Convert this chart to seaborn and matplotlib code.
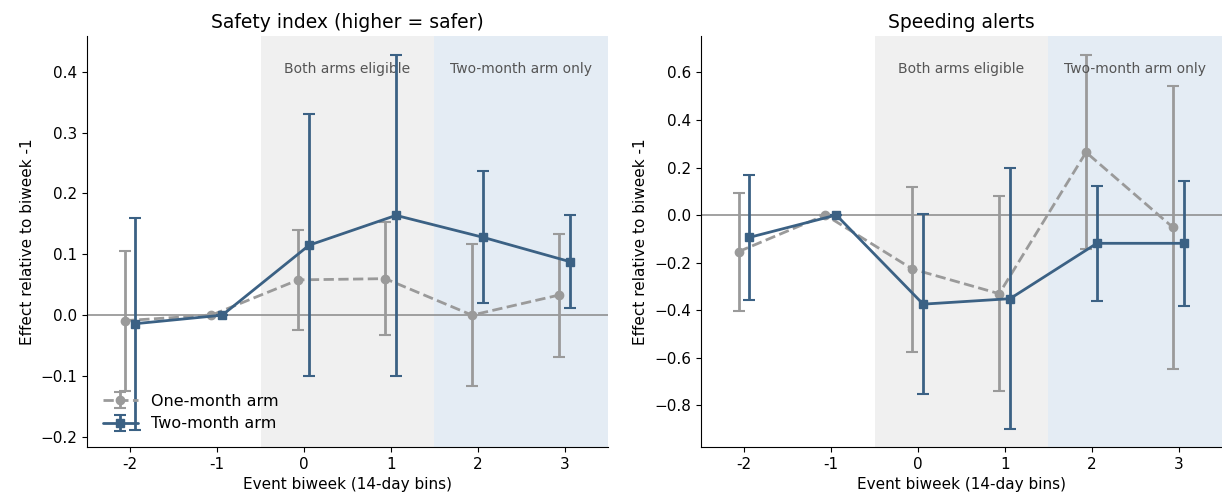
import numpy as np
import matplotlib
matplotlib.use("Agg")
import matplotlib.pyplot as plt
import seaborn as sns

sns.set_style("ticks")
plt.rcParams['font.family'] = ['DejaVu Sans']
for key in ["text.color", "axes.labelcolor", "xtick.color", "ytick.color", "axes.edgecolor"]:
    plt.rcParams[key] = "black"

# event biweeks
biweeks = [-2, -1, 0, 1, 2, 3]
biweek_labels = ["-2", "-1", "0", "1", "2", "3"]

# Safety index (higher = safer)
safety_one = [-0.009, 0.0, 0.058, 0.060, 0.0, 0.033]
safety_one_lo = [-0.125, 0.0, -0.024, -0.033, -0.117, -0.069]
safety_one_hi = [0.106, 0.0, 0.140, 0.153, 0.117, 0.134]
safety_two = [-0.014, 0.0, 0.115, 0.164, 0.128, 0.088]
safety_two_lo = [-0.188, 0.0, -0.100, -0.100, 0.020, 0.011]
safety_two_hi = [0.160, 0.0, 0.331, 0.428, 0.237, 0.165]

# Speeding alerts
speed_one = [-0.154, 0.0, -0.227, -0.331, 0.264, -0.052]
speed_one_lo = [-0.404, 0.0, -0.575, -0.741, -0.143, -0.650]
speed_one_hi = [0.093, 0.0, 0.119, 0.079, 0.674, 0.545]
speed_two = [-0.094, 0.0, -0.375, -0.352, -0.119, -0.119]
speed_two_lo = [-0.357, 0.0, -0.755, -0.901, -0.362, -0.384]
speed_two_hi = [0.168, 0.0, 0.006, 0.199, 0.123, 0.144]

grey = "#9a9a9a"
blue = "#3b6184"

fig, axes = plt.subplots(1, 2, figsize=(12.22, 4.98), dpi=100)
fig.subplots_adjust(left=0.071, right=1.0, bottom=0.102, top=0.928, wspace=0.178)


def draw_panel(ax, title, one, one_lo, one_hi, two, two_lo, two_hi, ylim, legend=False):
    x = np.array(biweeks, dtype=float)
    ax.axvspan(-0.5, 1.5, color="#f0f0f0", zorder=0, lw=0)
    ax.axvspan(1.5, 3.5, color="#e4ecf4", zorder=0, lw=0)
    ax.axhline(0, color="#888888", lw=1.1, zorder=1)

    one = np.array(one); two = np.array(two)
    err_one = [one - np.array(one_lo), np.array(one_hi) - one]
    err_two = [two - np.array(two_lo), np.array(two_hi) - two]
    ax.errorbar(x - 0.065, one, yerr=err_one, color=grey, ls="--", lw=2,
                marker="o", ms=6, capsize=4, elinewidth=2, capthick=1.5,
                label="One-month arm", zorder=3)
    ax.errorbar(x + 0.06, two, yerr=err_two, color=blue, ls="-", lw=2,
                marker="s", ms=6, capsize=4, elinewidth=2, capthick=1.5,
                label="Two-month arm", zorder=4)

    ax.set_xlim(-2.5, 3.5)
    ax.set_ylim(*ylim)
    ax.set_xticks(biweeks)
    ax.set_xticklabels(biweek_labels)
    ax.tick_params(labelsize=11)
    ax.set_title(title, fontsize=13.5)
    ax.set_xlabel("Event biweek (14-day bins)", fontsize=11)
    ax.set_ylabel("Effect relative to biweek -1", fontsize=11)
    ax.text(0.5, 0.92, "Both arms eligible", transform=ax.get_xaxis_transform(),
            ha="center", va="center", color="#555555", fontsize=10)
    ax.text(2.5, 0.92, "Two-month arm only", transform=ax.get_xaxis_transform(),
            ha="center", va="center", color="#555555", fontsize=10)
    sns.despine(ax=ax)
    if legend:
        ax.legend(loc="lower left", frameon=False, fontsize=11.5,
                  borderaxespad=0.6, handlelength=2.2, labelspacing=0.45)


draw_panel(axes[0], "Safety index (higher = safer)", safety_one, safety_one_lo, safety_one_hi,
           safety_two, safety_two_lo, safety_two_hi, (-0.217, 0.459), legend=True)
draw_panel(axes[1], "Speeding alerts", speed_one, speed_one_lo, speed_one_hi,
           speed_two, speed_two_lo, speed_two_hi, (-0.977, 0.754))

fig.savefig("out.png", dpi=100)
